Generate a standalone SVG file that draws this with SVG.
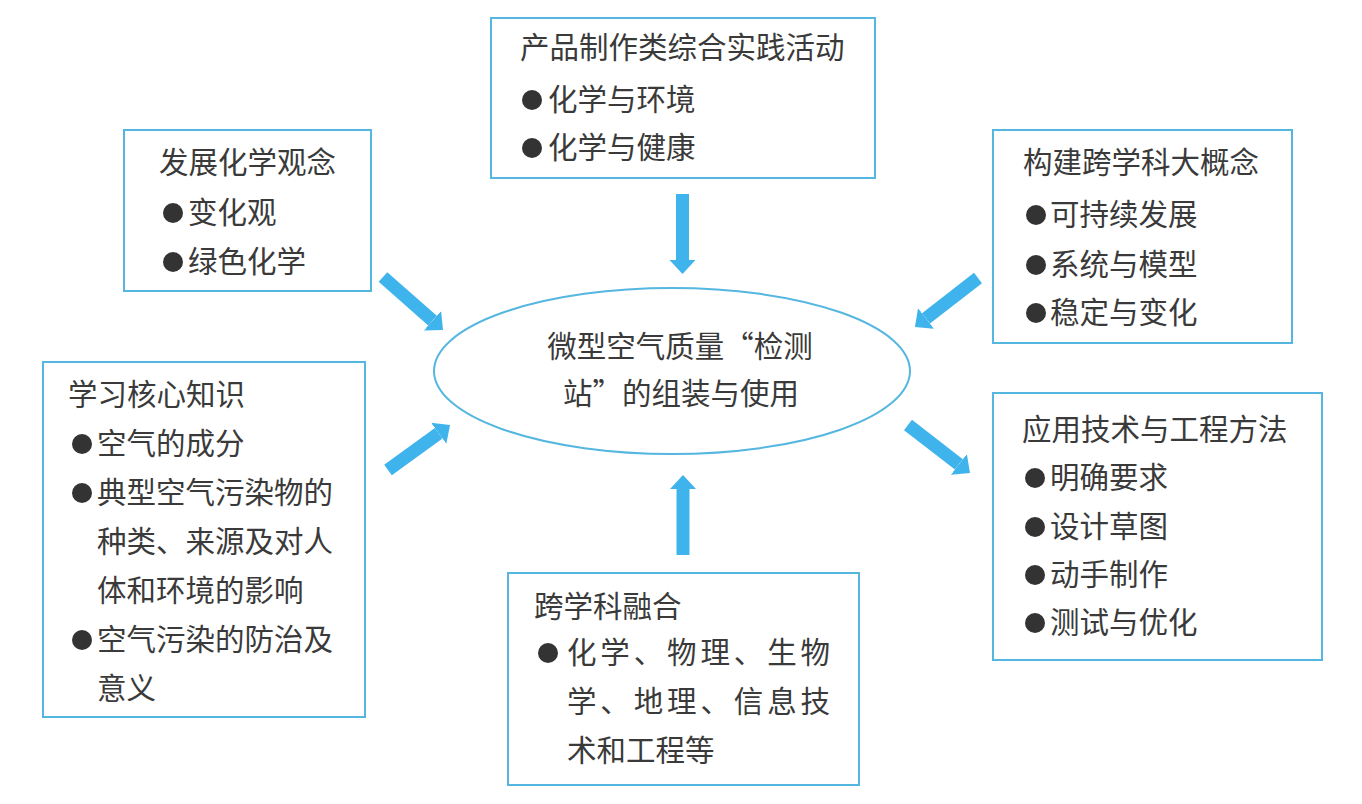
<svg xmlns="http://www.w3.org/2000/svg" width="1362" height="804" viewBox="0 0 1362 804">
<style>
.box{fill:#fff;stroke:#55b6e0;stroke-width:2}
.t{font-family:"Noto Sans CJK SC","Noto Sans",sans-serif;font-size:29.5px;fill:#3a3a3a}
.b{fill:#333}
.arr{stroke:#3eb3ec;stroke-width:13;fill:none}
</style>
<defs>
<marker id="ah" markerUnits="userSpaceOnUse" viewBox="0 0 14 26" markerWidth="14" markerHeight="26" refX="0" refY="13" orient="auto">
<path d="M0,0 L14,13 L0,26 z" fill="#3eb3ec"/>
</marker>
</defs>
<rect width="1362" height="804" fill="#fff"/>
<g id="connectors">
<line class="arr" x1="383" y1="277" x2="432.5" y2="320.7" marker-end="url(#ah)"/>
<line class="arr" x1="682.5" y1="194" x2="682.5" y2="260" marker-end="url(#ah)"/>
<line class="arr" x1="978" y1="278" x2="926" y2="318.4" marker-end="url(#ah)"/>
<line class="arr" x1="388" y1="470" x2="438.7" y2="433.2" marker-end="url(#ah)"/>
<line class="arr" x1="683" y1="555" x2="683" y2="489" marker-end="url(#ah)"/>
<line class="arr" x1="908" y1="425" x2="958.9" y2="464.4" marker-end="url(#ah)"/>
</g>
<g id="center">
<ellipse cx="672" cy="371" rx="238" ry="83" fill="none" stroke="#55b6e0" stroke-width="2"/>
<text class="t" x="680" y="357" text-anchor="middle">微型空气质量“检测</text>
<text class="t" x="681" y="404" text-anchor="middle">站”的组装与使用</text>
</g>
<g id="top">
<rect class="box" x="491" y="18" width="384" height="160"/>
<text class="t" x="520" y="58">产品制作类综合实践活动</text>
<circle class="b" cx="532" cy="100" r="10"/>
<text class="t" x="548" y="110">化学与环境</text>
<circle class="b" cx="532" cy="148" r="10"/>
<text class="t" x="548" y="158">化学与健康</text>
</g>
<g id="topleft">
<rect class="box" x="124" y="130" width="247" height="161"/>
<text class="t" x="159" y="173">发展化学观念</text>
<circle class="b" cx="173" cy="213" r="10"/>
<text class="t" x="188" y="223">变化观</text>
<circle class="b" cx="173" cy="262" r="10"/>
<text class="t" x="188" y="272">绿色化学</text>
</g>
<g id="topright">
<rect class="box" x="993" y="130" width="299" height="213"/>
<text class="t" x="1023" y="173">构建跨学科大概念</text>
<circle class="b" cx="1036" cy="215" r="10"/>
<text class="t" x="1050" y="225">可持续发展</text>
<circle class="b" cx="1036" cy="265" r="10"/>
<text class="t" x="1050" y="275">系统与模型</text>
<circle class="b" cx="1036" cy="313" r="10"/>
<text class="t" x="1050" y="323">稳定与变化</text>
</g>
<g id="left">
<rect class="box" x="43" y="362" width="322" height="355"/>
<text class="t" x="68" y="405">学习核心知识</text>
<circle class="b" cx="82" cy="444" r="10"/>
<text class="t" x="97" y="454">空气的成分</text>
<circle class="b" cx="82" cy="493" r="10"/>
<text class="t" x="97" y="503">典型空气污染物的</text>
<text class="t" x="97" y="552">种类、来源及对人</text>
<text class="t" x="97" y="601">体和环境的影响</text>
<circle class="b" cx="82" cy="640" r="10"/>
<text class="t" x="97" y="650">空气污染的防治及</text>
<text class="t" x="97" y="699">意义</text>
</g>
<g id="right">
<rect class="box" x="993" y="393" width="329" height="267"/>
<text class="t" x="1022" y="440">应用技术与工程方法</text>
<circle class="b" cx="1035" cy="478" r="10"/>
<text class="t" x="1050" y="488">明确要求</text>
<circle class="b" cx="1035" cy="527" r="10"/>
<text class="t" x="1050" y="537">设计草图</text>
<circle class="b" cx="1035" cy="575" r="10"/>
<text class="t" x="1050" y="585">动手制作</text>
<circle class="b" cx="1035" cy="623" r="10"/>
<text class="t" x="1050" y="633">测试与优化</text>
</g>
<g id="bottom">
<rect class="box" x="508" y="573" width="351" height="212"/>
<text class="t" x="534" y="617">跨学科融合</text>
<circle class="b" cx="548" cy="653" r="10"/>
<text class="t" x="567" y="663" textLength="263" lengthAdjust="spacing">化学、物理、生物</text>
<text class="t" x="567" y="712" textLength="263" lengthAdjust="spacing">学、地理、信息技</text>
<text class="t" x="567" y="761">术和工程等</text>
</g>
</svg>
